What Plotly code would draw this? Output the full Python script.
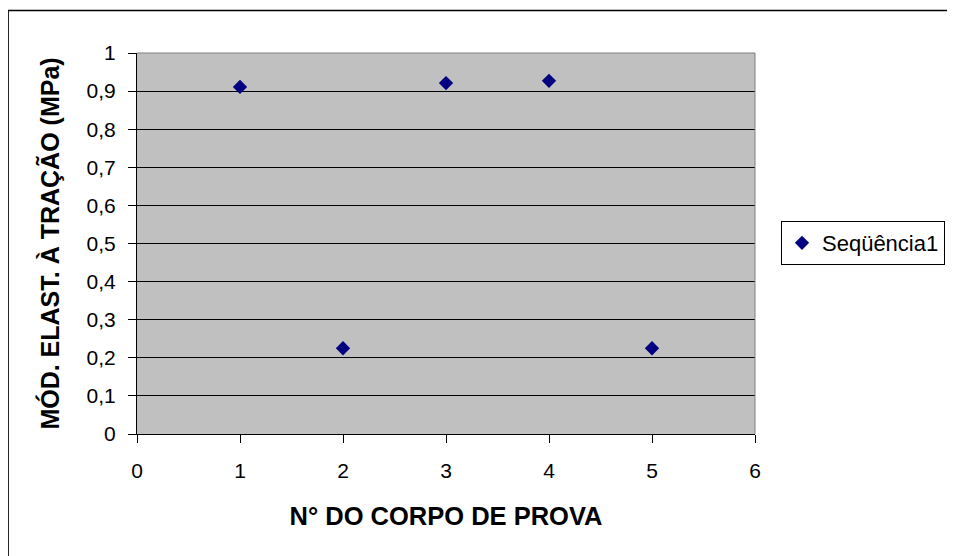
import plotly.graph_objects as go

# Data
specimens = [1, 2, 3, 4, 5]
modulus = [0.911, 0.225, 0.921, 0.927, 0.225]
series_name = "Seqüência1"
x_title = "N° DO CORPO DE PROVA"
y_title = "MÓD. ELAST. À TRAÇÃO (MPa)"
x_ticks = [0, 1, 2, 3, 4, 5, 6]
y_ticks = [0, 0.1, 0.2, 0.3, 0.4, 0.5, 0.6, 0.7, 0.8, 0.9, 1]

FONT = "Arial, 'Liberation Sans', sans-serif"
OFF = 8  # default page body margin
W, H = 1000, 556 - OFF
ML, MT = 137 - OFF, 53 - OFF
PW, PH = 618, 381
MR, MB = W - ML - PW, H - MT - PH

fig = go.Figure()
fig.add_trace(go.Scatter(
    x=specimens, y=modulus, mode="markers", name=series_name,
    marker=dict(symbol="diamond", size=11, color="#000080",
                line=dict(width=0)),
    showlegend=True,
))

def px_x(p):
    return (p - OFF - ML) / PW

def px_y(p):
    return 1 - (p - OFF - MT) / PH

fig.update_layout(
    width=W, height=H,
    margin=dict(l=ML, r=MR, t=MT, b=MB, pad=0, autoexpand=False),
    paper_bgcolor="white",
    plot_bgcolor="#C0C0C0",
    separators=",.",
    font=dict(family=FONT, size=21, color="black"),
    showlegend=True,
    legend=dict(
        x=px_x(781), y=px_y(243), xanchor="left", yanchor="middle",
        bordercolor="black", borderwidth=1, bgcolor="white",
        font=dict(family=FONT, size=22, color="black"),
        itemwidth=30, tracegroupgap=0,
    ),
    xaxis=dict(
        range=[0, 6], tickvals=x_ticks, ticktext=[str(v) for v in x_ticks],
        showgrid=False, zeroline=False, automargin=False,
        showline=True, linecolor="black", linewidth=1,
        ticks="outside", ticklen=8, tickcolor="black", tickwidth=1,
        ticklabelstandoff=10,
        tickfont=dict(family=FONT, size=21, color="black"),
        title=dict(text="<b>" + x_title + "</b>", standoff=25,
                   font=dict(family=FONT, size=25.5, color="black")),
    ),
    yaxis=dict(
        range=[0, 1], tickvals=y_ticks,
        showgrid=True, gridcolor="black", gridwidth=1,
        zeroline=False, automargin=False,
        showline=True, linecolor="black", linewidth=1,
        ticks="outside", ticklen=8, tickcolor="black", tickwidth=1,
        ticklabelstandoff=8,
        tickfont=dict(family=FONT, size=21, color="black"),
        title=dict(text="<b>" + y_title + "</b>", standoff=19,
                   font=dict(family=FONT, size=25, color="black")),
    ),
    shapes=[
        # plot-area frame top and right in gray
        dict(type="line", xref="paper", yref="paper", x0=0, x1=1, y0=1, y1=1,
             line=dict(color="#808080", width=1), layer="above"),
        dict(type="line", xref="paper", yref="paper", x0=1, x1=1, y0=0, y1=1,
             line=dict(color="#808080", width=1), layer="above"),
        # outer chart frame (top and left visible)
        dict(type="rect", xref="paper", yref="paper",
             x0=px_x(8.2), x1=px_x(1100), y0=px_y(600), y1=px_y(10.5),
             line=dict(color="black", width=1.3), layer="above"),
    ],
)

fig.write_html("out.html")
